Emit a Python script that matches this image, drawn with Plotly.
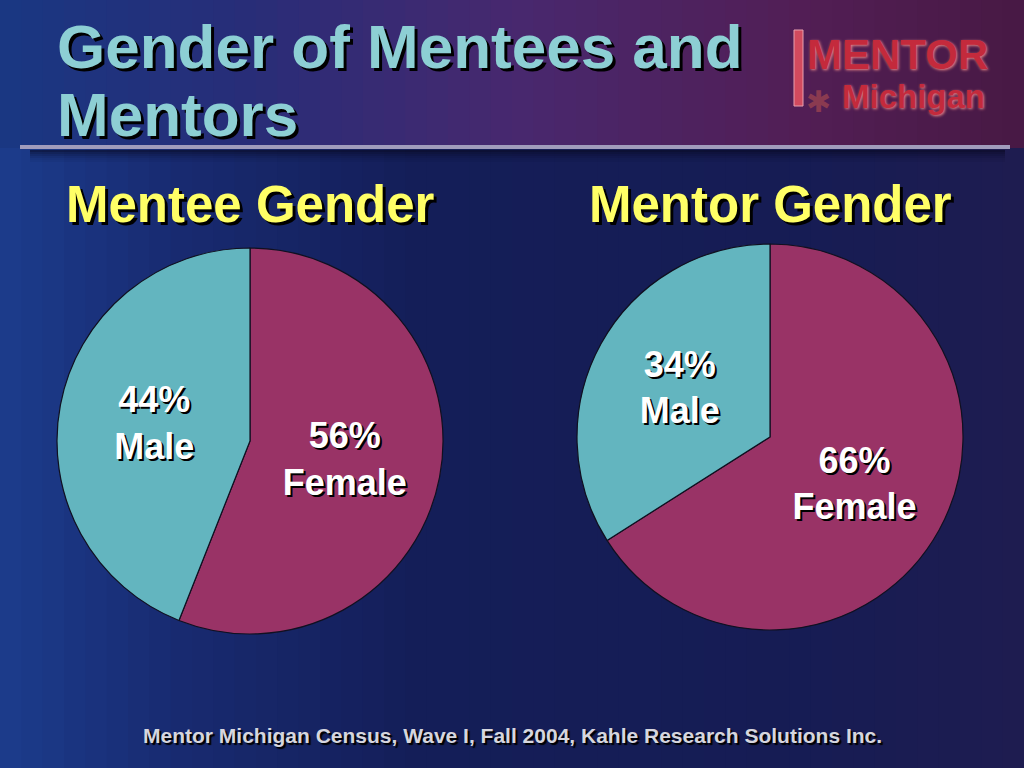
import plotly.graph_objects as go

# ---- data ----
charts = ["Mentee Gender", "Mentor Gender"]
genders = ["Female", "Male"]
mentee_pct = [56, 44]
mentor_pct = [66, 34]
title_lines = ["Gender of Mentees and", "Mentors"]
footer = "Mentor Michigan Census, Wave I, Fall 2004, Kahle Research Solutions Inc."

W, H = 1024, 768
SLICE_COLORS = ["#993366", "#63B5BF"]

fig = go.Figure()

def px_dom(x0, x1, y0, y1):
    return dict(x=[x0 / W, x1 / W], y=[1 - y1 / H, 1 - y0 / H])

for vals, dom in [(mentee_pct, px_dom(57, 443, 248, 634)),
                  (mentor_pct, px_dom(577, 963, 244, 630))]:
    fig.add_trace(go.Pie(
        labels=genders, values=vals, sort=False, direction="clockwise", rotation=0,
        domain=dom,
        marker=dict(colors=SLICE_COLORS, line=dict(color="#101020", width=1.2)),
        texttemplate="%{value}%<br>%{label}", textinfo="text",
        textposition="inside", insidetextorientation="horizontal",
        textfont=dict(family="Liberation Sans, Arial", size=36, color="white",
                      weight="bold", shadow="2px 2px 0px #000"),
        hoverinfo="label+value", showlegend=False,
    ))

shapes = []

def lerp(stops, x):
    for (xa, ca), (xb, cb) in zip(stops, stops[1:]):
        if xa <= x <= xb:
            t = (x - xa) / (xb - xa)
            return tuple(int(round(a + (b - a) * t)) for a, b in zip(ca, cb))
    return stops[-1][1]

head_stops = [(0, (25, 55, 130)), (250, (40, 45, 120)), (520, (72, 40, 110)),
              (800, (82, 30, 85)), (1024, (72, 25, 68))]
body_stops = [(0, (28, 60, 140)), (180, (24, 42, 112)), (420, (20, 30, 88)),
              (800, (22, 28, 84)), (1024, (30, 28, 80))]
N = 48
for i in range(N):
    x0 = W * i / N
    x1 = W * (i + 1) / N + 1
    xm = (x0 + x1) / 2
    c = lerp(head_stops, xm)
    shapes.append(dict(type="rect", xref="paper", yref="paper", layer="below",
                       x0=x0 / W, x1=min(x1 / W, 1), y0=1 - 148 / H, y1=1,
                       fillcolor="rgb(%d,%d,%d)" % c, line=dict(width=0)))
    c = lerp(body_stops, xm)
    shapes.append(dict(type="rect", xref="paper", yref="paper", layer="below",
                       x0=x0 / W, x1=min(x1 / W, 1), y0=0, y1=1 - 148 / H,
                       fillcolor="rgb(%d,%d,%d)" % c, line=dict(width=0)))
# soft shadow below the rule
for k, a in enumerate([0.55, 0.4, 0.28, 0.18, 0.1, 0.05]):
    y = 150 + 2 * k
    shapes.append(dict(type="rect", xref="paper", yref="paper", layer="below",
                       x0=30 / W, x1=1005 / W, y0=1 - (y + 2) / H, y1=1 - y / H,
                       fillcolor="rgba(5,5,25,%.2f)" % a, line=dict(width=0)))
shapes.append(dict(type="line", xref="paper", yref="paper", layer="below",
                   x0=20 / W, x1=1010 / W, y0=1 - 147 / H, y1=1 - 147 / H,
                   line=dict(color="#A09CBC", width=4)))
# logo bar
shapes.append(dict(type="rect", xref="paper", yref="paper", layer="below",
                   x0=794 / W, x1=803 / W, y0=1 - 106 / H, y1=1 - 30 / H,
                   fillcolor="#D24A5E", line=dict(color="#E8A0B0", width=1)))

annotations = []
for i, line in enumerate(title_lines):
    annotations.append(dict(text=line, x=55 / W, y=1 - (46 + 68 * i) / H,
                            xref="paper", yref="paper", xanchor="left", yanchor="middle",
                            showarrow=False,
                            font=dict(family="Liberation Sans, Arial", size=62,
                                      color="#8DCFD4", weight="bold",
                                      shadow="3px 3px 0px #000")))
for name, cx, cy in [(charts[0], 250, 204), (charts[1], 770, 204)]:
    annotations.append(dict(text=name, x=cx / W, y=1 - cy / H, xref="paper", yref="paper",
                            xanchor="center", yanchor="middle", showarrow=False,
                            font=dict(family="Liberation Sans, Arial", size=51,
                                      color="#FFFF66", weight="bold",
                                      shadow="3px 3px 0px #000")))
annotations.append(dict(text=footer, x=512 / W, y=1 - 735 / H, xref="paper", yref="paper",
                        xanchor="center", yanchor="middle", showarrow=False,
                        font=dict(family="Liberation Sans, Arial", size=21,
                                  color="#D6D6DE", weight="bold",
                                  shadow="2px 2px 1px #000")))
# logo text
annotations.append(dict(text="MENTOR", x=805 / W, y=1 - 54 / H, xref="paper", yref="paper",
                        xanchor="left", yanchor="middle", showarrow=False,
                        font=dict(family="Liberation Sans, Arial", size=42,
                                  color="#C42A3C", weight="bold",
                                  shadow="1px 1px 3px #E88")))
annotations.append(dict(text="Michigan", x=840 / W, y=1 - 96 / H, xref="paper", yref="paper",
                        xanchor="left", yanchor="middle", showarrow=False,
                        font=dict(family="Liberation Sans, Arial", size=33,
                                  color="#C42A3C", weight="bold",
                                  shadow="1px 1px 3px #E88")))
annotations.append(dict(text="✱", x=818 / W, y=1 - 100 / H, xref="paper", yref="paper",
                        xanchor="center", yanchor="middle", showarrow=False,
                        font=dict(size=30, color="#8A3A50")))

fig.update_layout(width=W, height=H, margin=dict(l=0, r=0, t=0, b=0),
                  paper_bgcolor="#18215A", plot_bgcolor="#18215A",
                  shapes=shapes, annotations=annotations)

fig.write_html("out.html", config={"displayModeBar": False},
               post_script="document.body.style.margin='0';")
